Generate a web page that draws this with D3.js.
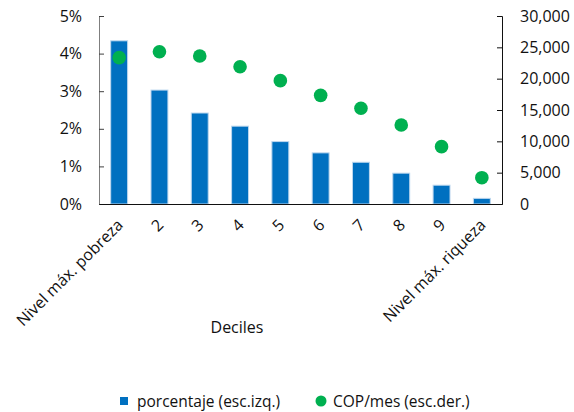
<!DOCTYPE html>
<html>
<head>
<meta charset="utf-8">
<script src="https://cdn.jsdelivr.net/npm/d3@7"></script>
<style>
  html, body { margin: 0; padding: 0; background: #fff; }
  svg text { font-family: "Open Sans", "Noto Sans", sans-serif; fill: #111; }
</style>
</head>
<body>
<svg id="chart" width="574" height="412"></svg>
<script>
// Deciles of household wealth
const categories = ["Nivel máx. pobreza", "2", "3", "4", "5", "6", "7", "8", "9", "Nivel máx. riqueza"];
// Share of households (left axis, %)
const porcentaje = [4.34, 3.03, 2.42, 2.07, 1.66, 1.36, 1.11, 0.82, 0.50, 0.15];
// Monthly amount in COP (right axis)
const copMes = [23350, 24300, 23620, 21900, 19680, 17340, 15270, 12600, 9150, 4200];
const leftTicks = [0, 1, 2, 3, 4, 5];
const rightTicks = [0, 5000, 10000, 15000, 20000, 25000, 30000];
const legendLabels = ["porcentaje (esc.izq.)", "COP/mes (esc.der.)"];
const axisTitle = "Deciles";

const svg = d3.select("#chart");
const plot = { left: 99, right: 502, top: 16, bottom: 204 };
const fs = "16px";

const x = d3.scaleBand().domain(categories).range([plot.left, plot.right]).paddingInner(0.58).paddingOuter(0.29);
const yL = d3.scaleLinear().domain([0, 5]).range([plot.bottom, plot.top]);
const yR = d3.scaleLinear().domain([0, 30000]).range([plot.bottom, plot.top]);

// Bars
svg.append("g").selectAll("rect").data(porcentaje).join("rect")
  .attr("x", (d, i) => x(categories[i]))
  .attr("y", d => yL(d))
  .attr("width", x.bandwidth())
  .attr("height", d => yL(0) - yL(d))
  .attr("fill", "#0070C0")
  .attr("stroke", "#BDD7EE")
  .attr("stroke-width", 1);

// Dots
svg.append("g").selectAll("circle").data(copMes).join("circle")
  .attr("cx", (d, i) => x(categories[i]) + x.bandwidth() / 2)
  .attr("cy", d => yR(d))
  .attr("r", 6.8)
  .attr("fill", "#00B050");

// Left axis
const gL = svg.append("g").attr("transform", `translate(${plot.left},0)`)
  .call(d3.axisRight(yL).tickValues(leftTicks).tickFormat(d => d + "%").tickSize(5).tickPadding(0));
gL.select(".domain").attr("stroke", "#7f7f7f");
gL.selectAll(".tick line").attr("stroke", "#404040");
gL.selectAll(".tick text").attr("x", -17).attr("text-anchor", "end")
  .style("font-size", fs);

// Right axis
const gR = svg.append("g").attr("transform", `translate(${plot.right},0)`)
  .call(d3.axisLeft(yR).tickValues(rightTicks).tickFormat(d3.format(",")).tickSize(5));
gR.select(".domain").attr("stroke", "#111");
gR.selectAll(".tick line").attr("stroke", "#111");
gR.selectAll(".tick text").attr("x", 18).attr("text-anchor", "start")
  .style("font-size", fs);

// Category axis baseline
const gX = svg.append("g").attr("transform", `translate(0,${plot.bottom})`)
  .call(d3.axisBottom(x).tickSize(0).tickPadding(0));
gX.select(".domain").attr("stroke", "#111").attr("stroke-width", 1.2);
gX.selectAll(".tick text")
  .attr("text-anchor", "end")
  .attr("dy", 0)
  .attr("transform", "translate(5,22) rotate(-45)")
  .style("font-size", fs);

// Axis title
svg.append("text").attr("x", 237).attr("y", 333).attr("text-anchor", "middle")
  .style("font-size", fs).text(axisTitle);

// Legend
const lg = svg.append("g");
lg.append("rect").attr("x", 120).attr("y", 397).attr("width", 8).attr("height", 8).attr("fill", "#0070C0");
lg.append("text").attr("x", 137).attr("y", 407).style("font-size", "15.5px").text(legendLabels[0]);
lg.append("circle").attr("cx", 321).attr("cy", 401).attr("r", 5.5).attr("fill", "#00B050");
lg.append("text").attr("x", 333).attr("y", 407).style("font-size", "15.5px").text(legendLabels[1]);
</script>
</body>
</html>
